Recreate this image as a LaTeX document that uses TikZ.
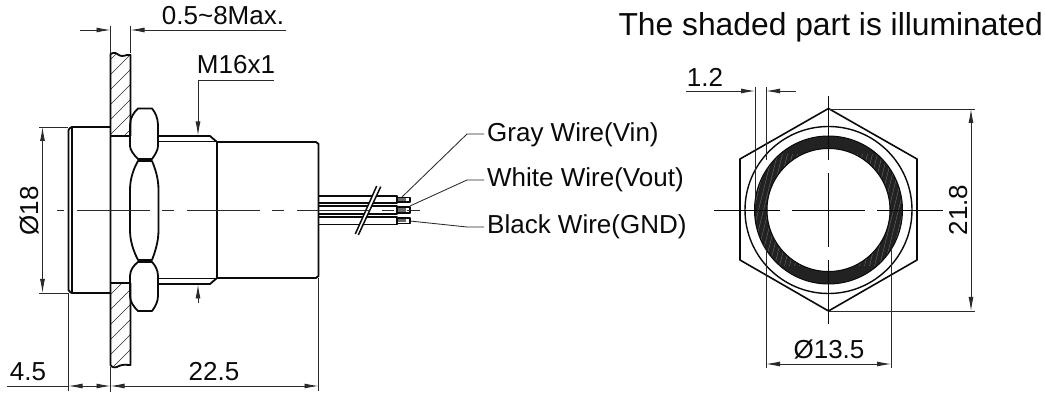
\documentclass[tikz,border=0pt]{standalone}
\usepackage{fontspec}
\setmainfont{Liberation Sans}
\usetikzlibrary{arrows.meta}
\definecolor{ink}{HTML}{0A0A0A}
\definecolor{dimc}{HTML}{2A2A2A}
\tikzset{
  x=1pt,y=-1pt,
  thick line/.style={draw=ink,line width=1.8pt,line join=round},
  med line/.style={draw=ink,line width=1.3pt,line join=round},
  thin line/.style={draw=dimc,line width=0.85pt},
  dimarrow/.style={thin line,{Latex[length=14pt,width=5pt]}-{Latex[length=14pt,width=5pt]}},
  tiparrow/.style={thin line,-{Latex[length=14pt,width=5pt]}},
  label text/.style={font=\fontsize{26}{26}\selectfont,text=ink,inner sep=0pt},
  title text/.style={font=\fontsize{31.8}{32}\selectfont,text=ink,inner sep=0pt},
  hatchline/.style={draw=dimc,line width=0.7pt},
}
\begin{document}
\begin{tikzpicture}
\useasboundingbox (0,0) rectangle (1045,398);
\fill[white] (0,0) rectangle (1045,398);
% ---------- panel hatching
\begin{scope}
\clip (110.5,54) -- (130.5,54) -- (130.5,136) -- (110.5,136) -- cycle;
\foreach \k in {0,...,8} \draw[hatchline] (110,{150-\k*15}) -- +(22,-22);
\end{scope}
\begin{scope}
\clip (110.5,283) -- (130.5,283) -- (130.5,365) -- (110.5,365) -- cycle;
\foreach \k in {0,...,8} \draw[hatchline] (110,{385-\k*15}) -- +(22,-22);
\end{scope}
% panel
\draw[thick line] (130.5,136) -- (130.5,55) .. controls (127,54) and (126,56) .. (122,56) .. controls (118,56) and (117,52) .. (113,53) .. controls (112,53) and (111,54) .. (110.5,54) -- (110.5,365) .. controls (112,368) and (116,368) .. (119,366) .. controls (123,364) and (126,365) .. (130.5,365) -- (130.5,283);
\draw[thick line] (110.5,136) -- (130.5,136) (110.5,283) -- (130.5,283);
% flange
\draw[thick line] (110.5,127) -- (72,127) -- (70,128) -- (68.5,130) -- (68.5,290) -- (70,292) -- (72,293) -- (110.5,293);
\draw[thick line] (72,127) -- (72,293);
% nut
\draw[thick line] (138,108.5) -- (152,108.5) .. controls (155,112) and (158,118) .. (158,125) -- (158,146) .. controls (158,150) and (155,155) .. (152,159) -- (138,159) .. controls (134,155) and (130,150) .. (130,146) -- (130,125) .. controls (130,118) and (134,112) .. (138,108.5) -- cycle;
\draw[thick line] (138,161) -- (152,161) .. controls (155,168) and (158.5,178) .. (158.5,190) -- (158.5,230) .. controls (158.5,242) and (155,252) .. (152,260) -- (138,260) .. controls (134,252) and (130,242) .. (130,230) -- (130,190) .. controls (130,178) and (134,168) .. (138,161) -- cycle;
\draw[thick line] (138,262) -- (152,262) .. controls (155,265) and (158,270) .. (158,276) -- (158,296) .. controls (158,302) and (155,307) .. (152,311) -- (138,311) .. controls (134,307) and (130,302) .. (130,296) -- (130,276) .. controls (130,270) and (134,265) .. (138,262) -- cycle;
% thread
\draw[thick line] (158,136) -- (210,136) -- (217,142) -- (217,278) -- (210,284) -- (158,284);
\draw[med line,line width=0.9pt] (158,141.5) -- (217,141.5) (158,278) -- (217,278);
% body
\draw[thick line] (217,142) -- (316,142) -- (318.5,144) -- (318.5,276) -- (316,278) -- (217,278);
% wires
\foreach \a/\b/\c/\d in {196/203/197.5/202,206/214/207/213,217/224.5/218/223.5}{
  \draw[med line] (319,\a) -- (397,\a) -- (397,\b) -- (319,\b);
  \draw[med line] (397,\c) -- (410,\c) -- (410,\d) -- (397,\d);
  \fill[dimc!70] (398,{\c+1}) rectangle (406,{\d-1});
}
% wire break
\fill[white] (355.3,234) -- (358.3,235) -- (380.7,186.7) -- (376.7,186) -- cycle;
\coordinate (b1) at (355.3,234); \coordinate (b2) at (376.7,186);
\coordinate (b3) at (358.3,235); \coordinate (b4) at (380.7,186.7);
\draw[med line,line width=1.5pt] (b1) -- (b2) (b3) -- (b4);
% centre line, side view
\draw[thin line,dash pattern=on 73pt off 12pt on 12pt off 13pt,dash phase=-20pt] (57,210) -- (420,210);
% ---------- 0.5~8 dimension
\coordinate (pa) at (110.5,53); \coordinate (pb) at (130.5,53);
\coordinate (pa1) at (110.5,26); \coordinate (pb1) at (130.5,26);
\draw[thin line] (pa1) -- (pa) (pb1) -- (pb);
\coordinate (da) at (110.5,30); \coordinate (db) at (130.5,30);
\coordinate (dl) at (80,30); \coordinate (dr) at (286,30);
\draw[tiparrow] (dl) -- (da);
\draw[tiparrow] (dr) -- (db);
\node[label text,anchor=base] (t05) at (223,25) {0.5\char"007E 8Max.};
% M16x1
\node[label text,anchor=base] (tm16) at (236,74) {M16x1};
\coordinate (m0) at (274,80); \coordinate (m1) at (198,80); \coordinate (m2) at (198,135.5);
\draw[tiparrow] (m0) -- (m1) -- (m2);
\coordinate (m3) at (198,303); \coordinate (m4) at (198,284.5);
\draw[tiparrow] (m3) -- (m4);
% Ø18
\coordinate (e1) at (39,127); \coordinate (e2) at (68,127);
\coordinate (e3) at (39,293); \coordinate (e4) at (68,293);
\draw[thin line] (e1) -- (e2) (e3) -- (e4);
\coordinate (d1) at (42.5,127); \coordinate (d2) at (42.5,293);
\draw[dimarrow] (d1) -- (d2);
\node[label text,rotate=90,anchor=base] (t18) at (38,211) {Ø18};
% bottom dims
\coordinate (b5) at (68.5,293); \coordinate (b6) at (68.5,391);
\coordinate (b7) at (110.5,367); \coordinate (b8) at (110.5,392);
\coordinate (b9) at (318.5,278); \coordinate (b10) at (318.5,391);
\draw[thin line] (b5) -- (b6) (b7) -- (b8) (b9) -- (b10);
\coordinate (l0) at (7,386); \coordinate (l1) at (68.5,386); \coordinate (l2) at (110.5,386); \coordinate (l3) at (318.5,386);
\draw[thin line] (l0) -- (l1);
\draw[dimarrow] (l1) -- (l2);
\draw[dimarrow] (l2) -- (l3);
\node[label text,anchor=base] (t45) at (28,381) {4.5};
\node[label text,anchor=base] (t225) at (214,381) {22.5};
% wire labels
\node[label text,anchor=base west] (tg) at (487,142) {Gray Wire(Vin)};
\node[label text,anchor=base west] (tw) at (487,187) {White Wire(Vout)};
\node[label text,anchor=base west] (tb) at (487,234) {Black Wire(GND)};
\coordinate (w1) at (402,197); \coordinate (w2) at (410,206); \coordinate (w3) at (410,221);
\draw[thin line] (w1) -- (467,134) -- (484,134);
\draw[thin line] (w2) -- (467,180) -- (484,180);
\draw[thin line] (w3) -- (467,227) -- (484,227);
% title
\node[title text,anchor=base east] (title) at (1043,36) {The shaded part is illuminated};
% ---------- front view
\def\cx{828.5}\def\cy{210}
\begin{scope}[even odd rule]
\clip (\cx,\cy) circle (74) (\cx,\cy) circle (61.5);
\fill[ink!90] (\cx,\cy) circle (75);
\foreach \k in {-30,...,30} \draw[white!40!black,line width=0.4pt] ({\cx+\k*5},{\cy+80}) -- ({\cx+\k*5+40},{\cy-80});
\fill[ink!90] (\cx-80,\cy-80) rectangle (\cx+80,\cy-56);
\fill[ink!90] (\cx-80,\cy+56) rectangle (\cx+80,\cy+80);
\end{scope}
\draw[med line,line width=1pt] (\cx,\cy) circle (74);
\draw[med line,line width=1pt] (\cx,\cy) circle (61.5);
\draw[thick line,line width=1.4pt] (\cx,\cy) circle (83.5);
\draw[thick line,line width=1.6pt] (828.5,108.5) -- (917,159) -- (917,260) -- (828.5,311) -- (740,260) -- (740,159) -- cycle;
% centre lines
\draw[thin line,draw=ink] (714,210) -- (780,210) (792,210) -- (865,210) (877,210) -- (943,210);
\draw[thin line,draw=ink] (828.5,96) -- (828.5,160) (828.5,173) -- (828.5,247) (828.5,260) -- (828.5,324);
% 1.2
\coordinate (c1) at (755,87); \coordinate (c2) at (755,196);
\coordinate (c3) at (766,87); \coordinate (c4) at (766,160);
\draw[thin line] (c1) -- (c2) (c3) -- (c4);
\coordinate (c5) at (686,91); \coordinate (c6) at (755,91); \coordinate (c7) at (796,91); \coordinate (c8) at (766,91);
\draw[tiparrow] (c5) -- (c6);
\draw[tiparrow] (c7) -- (c8);
\node[label text,anchor=base] (t12) at (705,87) {1.2};
% Ø13.5
\coordinate (f1) at (766,250); \coordinate (f2) at (766,368);
\coordinate (f3) at (891,250); \coordinate (f4) at (891,368);
\draw[thin line] (f1) -- (f2) (f3) -- (f4);
\coordinate (f5) at (766,364); \coordinate (f6) at (891,364);
\draw[dimarrow] (f5) -- (f6);
\node[label text,anchor=base] (t135) at (829,359) {Ø13.5};
% 21.8
\coordinate (g1) at (828.5,109); \coordinate (g2) at (975,109);
\coordinate (g3) at (828.5,311); \coordinate (g4) at (975,311);
\draw[thin line] (g1) -- (g2) (g3) -- (g4);
\coordinate (g5) at (971,109); \coordinate (g6) at (971,311);
\draw[dimarrow] (g5) -- (g6);
\node[label text,rotate=90,anchor=base] (t218) at (967,210) {21.8};
\end{tikzpicture}
\end{document}
